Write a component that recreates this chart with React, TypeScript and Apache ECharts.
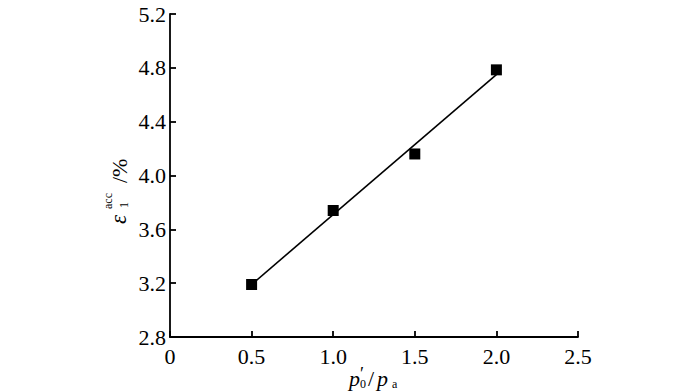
import React, { useEffect, useRef } from "react";
import * as echarts from "echarts";

const xValues = [0.5, 1.0, 1.5, 2.0];
const yValues = [3.19, 3.74, 4.16, 4.785];
const fitX = [0.5, 2.0];
const fitY = [3.19, 4.75];

const FONT = "Liberation Serif";

function t(text: string, x: number, y: number, size: number, italic = false) {
  return {
    type: "text",
    x,
    y,
    style: {
      text,
      fontFamily: FONT,
      fontSize: size,
      fontStyle: italic ? "italic" : "normal",
      fill: "#000",
      verticalAlign: "bottom",
      align: "left",
    },
  };
}

export default function App() {
  const ref = useRef<HTMLDivElement>(null);
  useEffect(() => {
    if (!ref.current) return;
    const chart = echarts.init(ref.current, null, { renderer: "svg" });
    const axisCommon = {
      axisLine: { show: true, onZero: false, lineStyle: { color: "#000", width: 1.8 } },
      axisTick: { show: true, inside: true, length: 6, lineStyle: { color: "#000", width: 1.8 } },
      splitLine: { show: false },
      axisLabel: { color: "#000", fontFamily: FONT, fontSize: 22 },
    };
    chart.setOption({
      animation: false,
      backgroundColor: "#fff",
      textStyle: { fontFamily: FONT },
      grid: { left: 170, right: 122, top: 14, bottom: 54, containLabel: false },
      xAxis: {
        type: "value",
        min: 0,
        max: 2.5,
        interval: 0.5,
        ...axisCommon,
        axisLabel: {
          ...axisCommon.axisLabel,
          margin: 8,
          formatter: (v: number) => (v === 0 ? "0" : v.toFixed(1)),
        },
      },
      yAxis: {
        type: "value",
        min: 2.8,
        max: 5.2,
        interval: 0.4,
        ...axisCommon,
        axisLabel: {
          ...axisCommon.axisLabel,
          margin: 4,
          formatter: (v: number) => v.toFixed(1),
        },
      },
      series: [
        {
          type: "line",
          data: fitX.map((x, i) => [x, fitY[i]]),
          showSymbol: false,
          symbol: "none",
          lineStyle: { color: "#000", width: 1.6 },
          z: 2,
        },
        {
          type: "scatter",
          data: xValues.map((x, i) => [x, yValues[i]]),
          symbol: "rect",
          symbolSize: 11,
          itemStyle: { color: "#000", opacity: 1 },
          z: 3,
        },
      ],
      graphic: [
        {
          type: "group",
          x: 125,
          y: 224,
          rotation: Math.PI / 2,
          children: [
            t("ε", 0, 5, 23, true),
            t("acc", 15, -11, 12),
            t("1", 16, 5, 12),
            t("/%", 41, 5, 22),
          ],
        },
        {
          type: "group",
          x: 349,
          y: 384,
          children: [
            t("p", 0, 5, 22, true),
            t("′", 11, -1, 18),
            t("0", 11, 6, 12),
            t("/", 19, 5, 22),
            t("p", 28, 5, 22, true),
            t("a", 43, 6, 12),
          ],
        },
      ],
    });
    return () => chart.dispose();
  }, []);
  return <div ref={ref} style={{ width: 700, height: 391, position: "absolute", left: 0, top: 0 }} />;
}
